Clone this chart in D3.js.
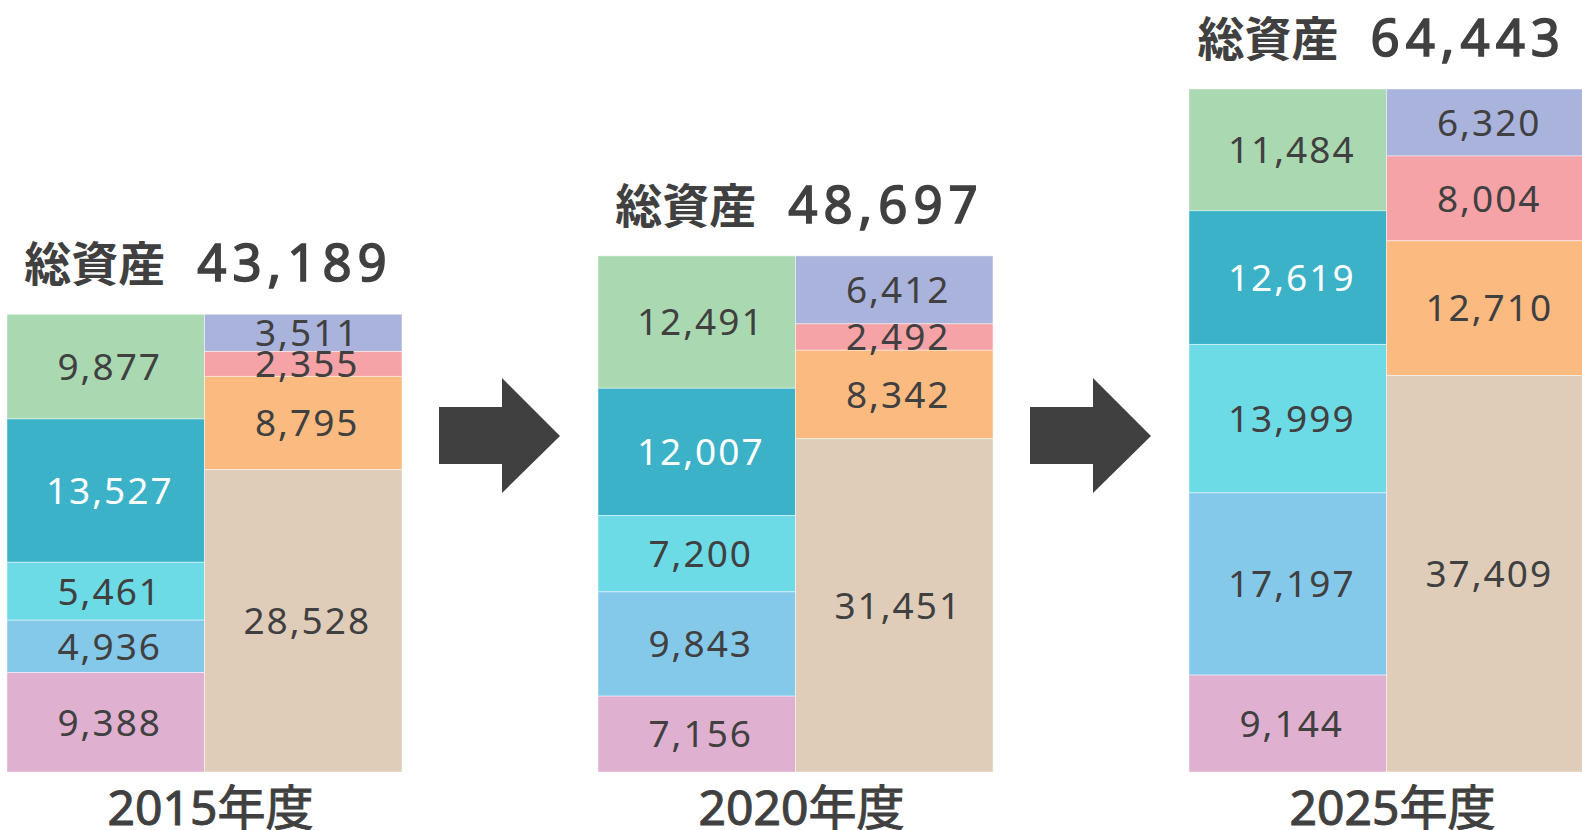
<!DOCTYPE html>
<html>
<head>
<meta charset="utf-8">
<script src="https://cdn.jsdelivr.net/npm/d3@7"></script>
<style>
  body { margin: 0; background: #fff; }
  svg { display: block; font-family: "Noto Sans", "Noto Sans CJK JP", sans-serif; }
</style>
</head>
<body>
<script>
// years and the two columns of each balance sheet (top to bottom)
var years = ["2015年度", "2020年度", "2025年度"];

// assets column, top -> bottom
var assetValues = [
  [9877, 13527, 5461, 4936, 9388],
  [12491, 12007, 7200, 9843, 7156],
  [11484, 12619, 13999, 17197, 9144]
];
// liabilities / equity column, top -> bottom
var liabValues = [
  [3511, 2355, 8795, 28528],
  [6412, 2492, 8342, 31451],
  [6320, 8004, 12710, 37409]
];

var assetColors = ["#a9d8b1", "#3bb2c7", "#6ddbe6", "#85c9ea", "#e0b0d1"];
var assetText   = ["#404040", "#ffffff", "#404040", "#404040", "#404040"];
var liabColors  = ["#aab3dc", "#f6a3a8", "#fbba80", "#dfcdb9"];

var titleLabel = "総資産";

var W = 1582, H = 830;
var dark = "#404040";

var svg = d3.select("body").append("svg")
  .attr("width", W)
  .attr("height", H);

var totals = assetValues.map(function(d) { return d3.sum(d); });

var y = d3.scaleLinear()
  .domain([0, d3.max(totals)])
  .range([772, 89]);

var x = d3.scaleBand()
  .domain(years)
  .range([7, 1584])
  .paddingInner(196 / 591)
  .paddingOuter(0);

var colW = x.bandwidth() / 2;
var fmt = d3.format(",");

years.forEach(function(year, i) {
  var g = svg.append("g").attr("transform", "translate(" + x(year) + ",0)");

  // build a stacked column
  function column(values, colors, textColors, x0) {
    var acc = d3.sum(values);
    var segs = values.map(function(v, k) {
      var top = acc; acc -= v;
      return {v: v, top: top, bottom: acc, color: colors[k], tc: textColors ? textColors[k] : dark};
    });
    g.selectAll(null).data(segs).enter().append("rect")
      .attr("x", x0)
      .attr("width", colW)
      .attr("y", function(d) { return y(d.top); })
      .attr("height", function(d) { return y(d.bottom) - y(d.top); })
      .attr("fill", function(d) { return d.color; })
      .attr("stroke", "rgba(255,255,255,0.45)")
      .attr("stroke-width", 1);
    g.selectAll(null).data(segs).enter().append("text")
      .attr("x", x0 + colW / 2 + 4)
      .attr("y", function(d) { return (y(d.top) + y(d.bottom)) / 2; })
      .attr("dy", "0.36em")
      .attr("text-anchor", "middle")
      .attr("font-size", 37)
      .attr("letter-spacing", 2)
      .attr("fill", function(d) { return d.tc; })
      .text(function(d) { return fmt(d.v); });
  }

  column(assetValues[i], assetColors, assetText, 0);
  column(liabValues[i], liabColors, null, colW);

  // title: 総資産 + total
  var total = totals[i];
  var cx = x.bandwidth() / 2;
  var t = g.append("text")
    .attr("y", y(total) - 33)
    .attr("text-anchor", "middle")
    .attr("fill", dark)
    .attr("stroke", dark);
  t.append("tspan").attr("font-size", 47).attr("font-weight", "bold")
    .attr("stroke-width", 0).text(titleLabel);
  t.append("tspan").attr("dx", 32).attr("font-size", 51)
    .attr("stroke-width", 1.6)
    .attr("letter-spacing", 6).text(fmt(total));
  // keep the title inside the page
  var bb = t.node().getBBox();
  var shift = Math.min(0, (W - 20) - (x(year) + cx + bb.width / 2));
  t.attr("x", cx + 4 + shift);

  // year label
  g.append("text")
    .attr("x", cx + 6)
    .attr("y", 825)
    .attr("text-anchor", "middle")
    .attr("font-size", 48)
    .attr("fill", dark)
    .attr("stroke", dark)
    .attr("stroke-width", 1)
    .text(year);

  // arrow to the next year
  if (i < years.length - 1) {
    var ax = x(year) + x.bandwidth() + 37, ay = 436;
    var pts = [
      [ax, ay - 29], [ax + 63, ay - 29], [ax + 63, ay - 58],
      [ax + 121, ay], [ax + 63, ay + 57], [ax + 63, ay + 28], [ax, ay + 28]
    ];
    svg.append("path")
      .attr("d", d3.line()(pts) + "Z")
      .attr("fill", dark);
  }
});
</script>
</body>
</html>
